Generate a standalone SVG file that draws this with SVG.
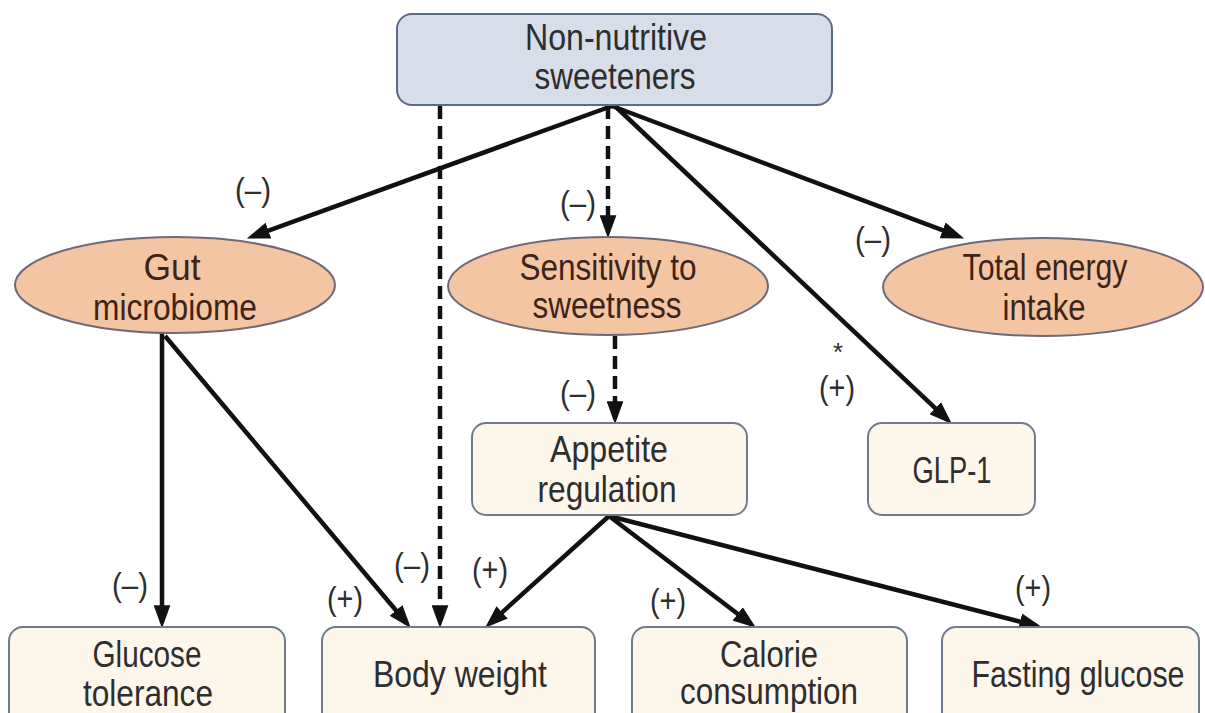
<svg xmlns="http://www.w3.org/2000/svg" width="1205" height="713" viewBox="0 0 1205 713">
<style>
text{font-family:"Liberation Sans",Arial,sans-serif;text-anchor:middle}
.t{font-size:36px;fill:#2e2e2e}
.te{font-size:36px;fill:#3d2418}
.lab{font-size:33px;fill:#2e2e2e}
.rect{fill:#fdf6ea;stroke:#6f7b8c;stroke-width:2}
.top{fill:#d7dde9;stroke:#5d6a84;stroke-width:2}
.ell{fill:#f3c5a2;stroke:#6c6a78;stroke-width:2}
.c{fill:none;stroke:#111;stroke-width:4.5;marker-end:url(#ah)}
.d{stroke-dasharray:13 7}
</style>
<defs>
<marker id="ah" markerUnits="userSpaceOnUse" markerWidth="23" markerHeight="17" refX="16" refY="8" orient="auto" viewBox="0 0 22 16">
<path d="M0,0 L22,8 L0,16 z" fill="#111"/>
</marker>
</defs>
<rect width="1205" height="713" fill="#fff"/>
<g id="connectors">
<line class="c" x1="612" y1="106" x2="252.7" y2="236.3"/>
<line class="c" x1="612" y1="106" x2="958.3" y2="236.2"/>
<line class="c d" x1="608" y1="106" x2="608" y2="232"/>
<line class="c" x1="615" y1="106" x2="947.4" y2="419.6"/>
<line class="c d" x1="440" y1="106" x2="440" y2="622"/>
<line class="c" x1="162" y1="334" x2="162" y2="622"/>
<line class="c" x1="165" y1="336" x2="406.8" y2="623.2"/>
<line class="c d" x1="615" y1="336" x2="615" y2="418"/>
<line class="c" x1="609" y1="516" x2="489.7" y2="623.6"/>
<line class="c" x1="609" y1="516" x2="751" y2="624"/>
<line class="c" x1="609" y1="516" x2="1036.2" y2="625.8"/>
</g>
<g id="labels">
<text class="lab" x="253" y="201" textLength="36" lengthAdjust="spacingAndGlyphs">(–)</text>
<text class="lab" x="578" y="214" textLength="36" lengthAdjust="spacingAndGlyphs">(–)</text>
<text class="lab" x="873" y="250" textLength="36" lengthAdjust="spacingAndGlyphs">(–)</text>
<text class="lab" x="838" y="361" style="font-size:26px">*</text>
<text class="lab" x="837" y="399" textLength="36" lengthAdjust="spacingAndGlyphs">(+)</text>
<text class="lab" x="578" y="404" textLength="36" lengthAdjust="spacingAndGlyphs">(–)</text>
<text class="lab" x="130" y="596" textLength="36" lengthAdjust="spacingAndGlyphs">(–)</text>
<text class="lab" x="345" y="610" textLength="36" lengthAdjust="spacingAndGlyphs">(+)</text>
<text class="lab" x="412" y="576" textLength="36" lengthAdjust="spacingAndGlyphs">(–)</text>
<text class="lab" x="490" y="581" textLength="36" lengthAdjust="spacingAndGlyphs">(+)</text>
<text class="lab" x="668" y="612" textLength="36" lengthAdjust="spacingAndGlyphs">(+)</text>
<text class="lab" x="1033" y="599" textLength="36" lengthAdjust="spacingAndGlyphs">(+)</text>
</g>
<g id="node-nns">
<rect class="top" x="397" y="14" width="435" height="91" rx="15"/>
<text class="t" x="616" y="50" textLength="182" lengthAdjust="spacingAndGlyphs">Non-nutritive</text>
<text class="t" x="615" y="89" textLength="161" lengthAdjust="spacingAndGlyphs">sweeteners</text>
</g>
<g id="node-gut">
<ellipse class="ell" cx="175" cy="285" rx="160" ry="48"/>
<text class="te" x="172" y="280" textLength="57" lengthAdjust="spacingAndGlyphs">Gut</text>
<text class="te" x="175" y="320" textLength="164" lengthAdjust="spacingAndGlyphs">microbiome</text>
</g>
<g id="node-sens">
<ellipse class="ell" cx="608" cy="286" rx="160" ry="49"/>
<text class="te" x="608" y="280" textLength="177" lengthAdjust="spacingAndGlyphs">Sensitivity to</text>
<text class="te" x="607" y="318" textLength="149" lengthAdjust="spacingAndGlyphs">sweetness</text>
</g>
<g id="node-energy">
<ellipse class="ell" cx="1043" cy="287" rx="160" ry="49"/>
<text class="te" x="1045" y="280" textLength="165" lengthAdjust="spacingAndGlyphs">Total energy</text>
<text class="te" x="1044" y="320" textLength="83" lengthAdjust="spacingAndGlyphs">intake</text>
</g>
<g id="node-appetite">
<rect class="rect" x="472" y="423" width="275" height="92" rx="14"/>
<text class="t" x="609" y="462" textLength="118" lengthAdjust="spacingAndGlyphs">Appetite</text>
<text class="t" x="607" y="502" textLength="139" lengthAdjust="spacingAndGlyphs">regulation</text>
</g>
<g id="node-glp1">
<rect class="rect" x="868" y="423" width="167" height="92" rx="14"/>
<text class="t" x="952" y="483" textLength="79" lengthAdjust="spacingAndGlyphs">GLP-1</text>
</g>
<g id="node-glucose-tol">
<rect class="rect" x="9" y="627" width="276" height="100" rx="14"/>
<text class="t" x="147" y="667" textLength="109" lengthAdjust="spacingAndGlyphs">Glucose</text>
<text class="t" x="148" y="706" textLength="130" lengthAdjust="spacingAndGlyphs">tolerance</text>
</g>
<g id="node-body">
<rect class="rect" x="322" y="627" width="273" height="100" rx="14"/>
<text class="t" x="460" y="687" textLength="174" lengthAdjust="spacingAndGlyphs">Body weight</text>
</g>
<g id="node-calorie">
<rect class="rect" x="632" y="627" width="275" height="100" rx="14"/>
<text class="t" x="769" y="667" textLength="98" lengthAdjust="spacingAndGlyphs">Calorie</text>
<text class="t" x="769" y="704" textLength="178" lengthAdjust="spacingAndGlyphs">consumption</text>
</g>
<g id="node-fasting">
<rect class="rect" x="942" y="627" width="257" height="100" rx="14"/>
<text class="t" x="1078" y="687" textLength="213" lengthAdjust="spacingAndGlyphs">Fasting glucose</text>
</g>
</svg>
